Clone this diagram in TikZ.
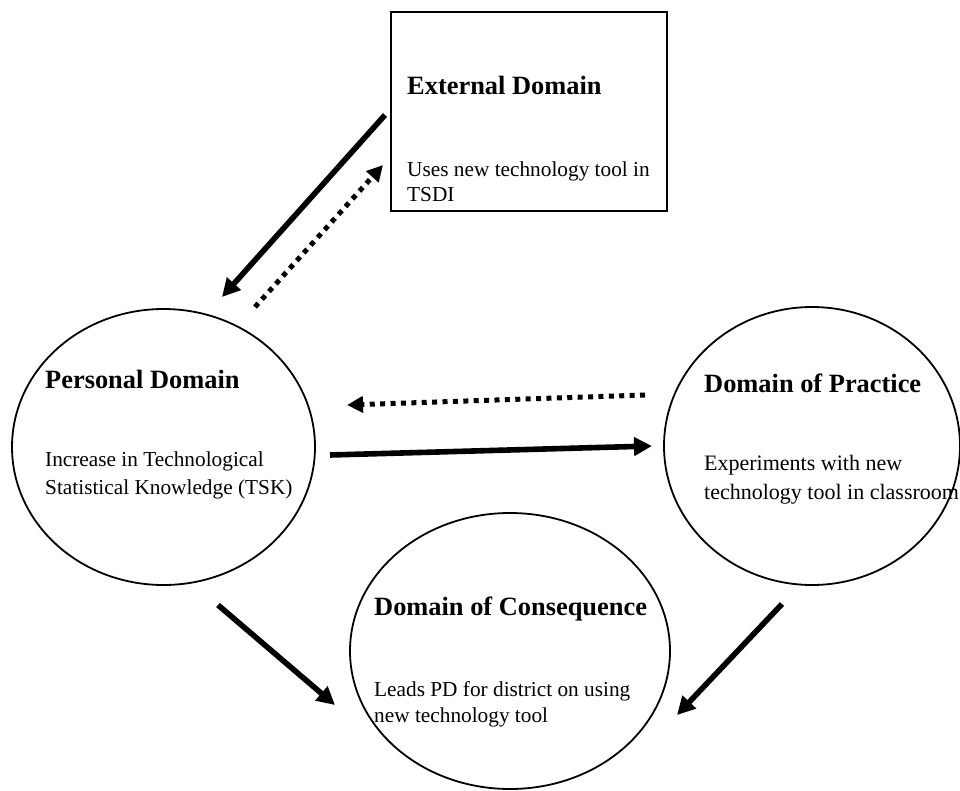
\documentclass[tikz,border=0pt]{standalone}
\usepackage{fontspec}
\setmainfont{Liberation Serif}
\usetikzlibrary{shapes.geometric,arrows.meta}
\begin{document}
\begin{tikzpicture}[x=1pt,y=-1pt,
  domainel/.style={draw=black, line width=1.8pt, ellipse, inner sep=0pt},
  boxdom/.style={draw=black, line width=1.8pt, rectangle, inner sep=0pt},
  ttltext/.style={anchor=base west, inner sep=0pt, font=\fontsize{26.4}{30}\selectfont\bfseries},
  bdytext/.style={anchor=base west, inner sep=0pt, font=\fontsize{21.3}{26}\selectfont},
  bdytextb/.style={anchor=base west, inner sep=0pt, font=\fontsize{22}{26}\selectfont},
  solidarrow/.style={line width=5.6pt, -{Triangle[length=18pt,width=18pt]}},
  dotarrow/.style={line width=5pt, dash pattern=on 5pt off 5.4pt, -{Triangle[length=16pt,width=16pt]}}
]
\useasboundingbox (0,0) rectangle (960,791);
\fill[white] (0,0) rectangle (960,791);

% domains
\node[boxdom, minimum width=276pt, minimum height=199pt] (ext) at (529,111.5) {};
\node[domainel, minimum width=303pt, minimum height=276pt] (pers) at (163.5,447) {};
\node[domainel, minimum width=296pt, minimum height=278pt] (prac) at (812,446) {};
\node[domainel, minimum width=320pt, minimum height=276pt] (cons) at (510,651) {};

% texts
\node[ttltext] (extT) at (407,95) {External Domain};
\node[bdytext] (extB1) at (407,177) {Uses new technology tool in};
\node[bdytext] (extB2) at (407,202) {TSDI};

\node[ttltext] (persT) at (45,388) {Personal Domain};
\node[bdytext] (persB1) at (45,466) {Increase in Technological};
\node[bdytext] (persB2) at (45,494) {Statistical Knowledge (TSK)};

\node[ttltext] (pracT) at (704,392) {Domain of Practice};
\node[bdytextb] (pracB1) at (704,470) {Experiments with new};
\node[bdytextb] (pracB2) at (704,499) {technology tool in classroom};

\node[ttltext] (consT) at (374,615) {Domain of Consequence};
\node[bdytext] (consB1) at (374,696) {Leads PD for district on using};
\node[bdytext] (consB2) at (374,722) {new technology tool};

% arrow end points
\coordinate (a1s) at (385,115);
\coordinate (a1e) at (222,297);
\coordinate (a2s) at (255,307);
\coordinate (a2e) at (383,165);
\coordinate (a3s) at (645,395);
\coordinate (a3e) at (347,405);
\coordinate (a4s) at (330,455);
\coordinate (a4e) at (652,446);
\coordinate (a5s) at (218,605);
\coordinate (a5e) at (335,705);
\coordinate (a6s) at (782,604);
\coordinate (a6e) at (677,715);

\draw[solidarrow] (a1s) -- (a1e);
\draw[dotarrow] (a2s) -- (a2e);
\draw[dotarrow] (a3s) -- (a3e);
\draw[solidarrow] (a4s) -- (a4e);
\draw[solidarrow] (a5s) -- (a5e);
\draw[solidarrow] (a6s) -- (a6e);
\end{tikzpicture}
\end{document}
